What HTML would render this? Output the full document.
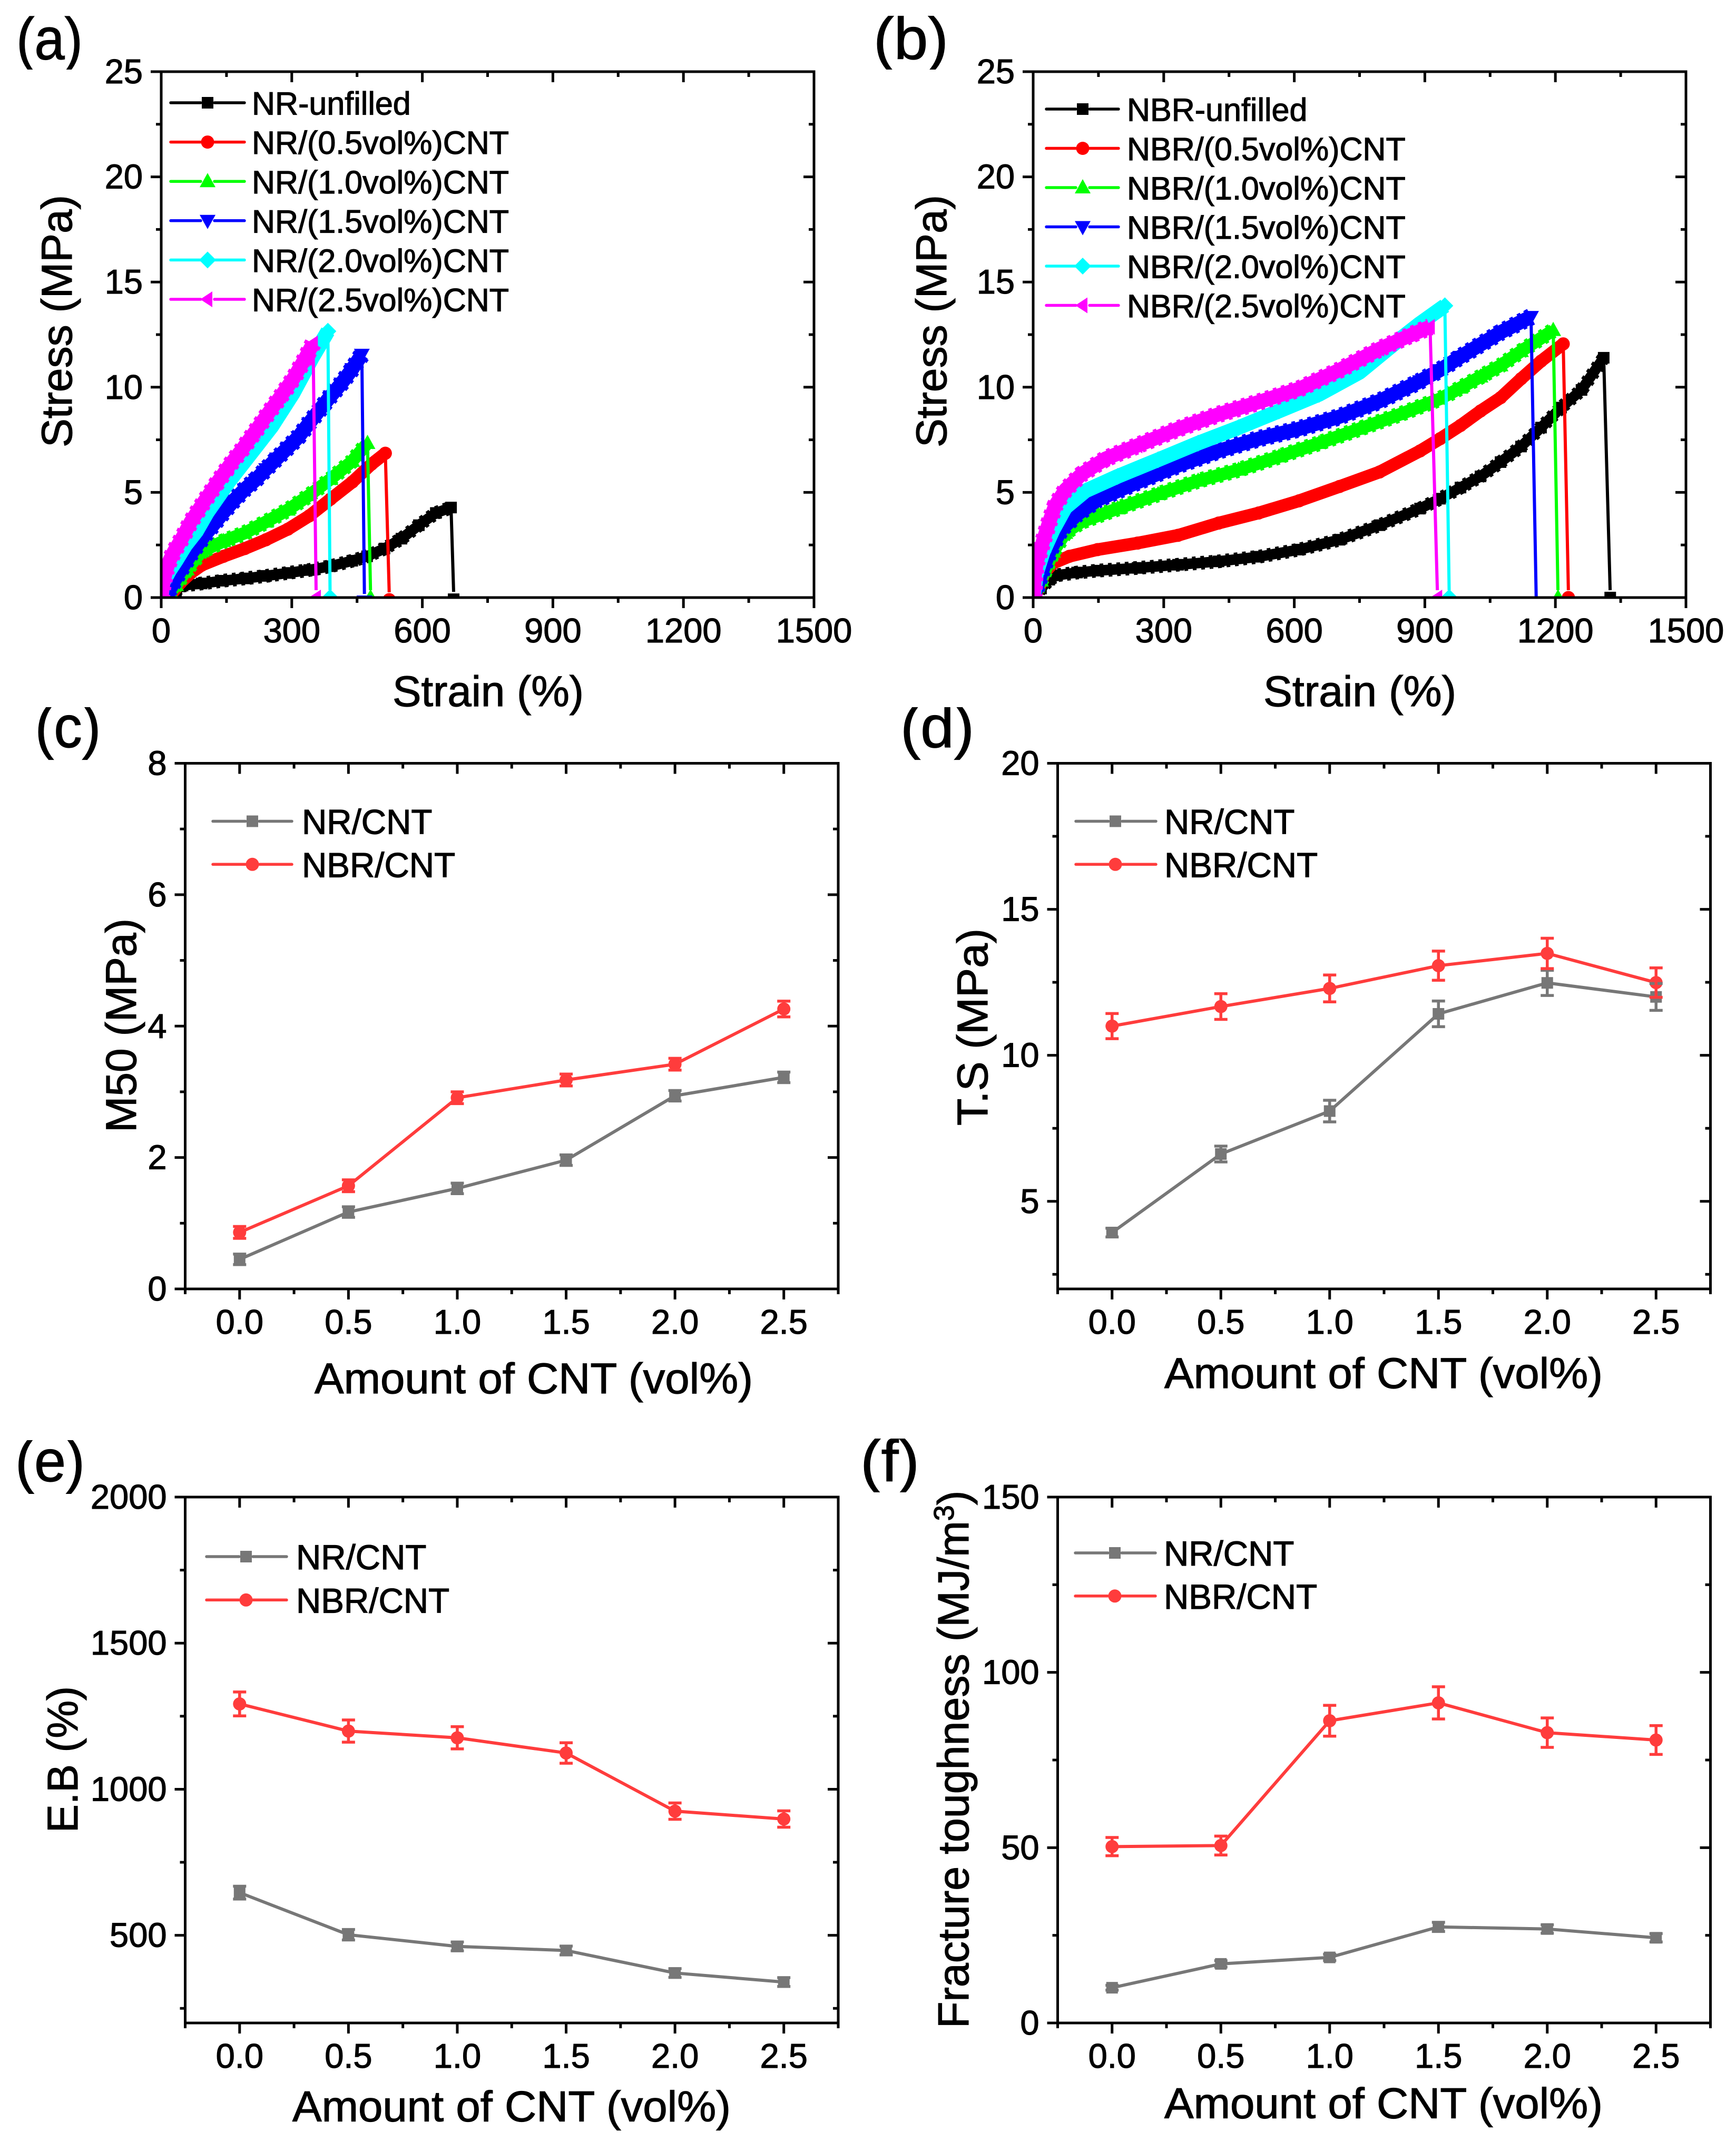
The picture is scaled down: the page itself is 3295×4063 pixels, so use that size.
<!DOCTYPE html>
<html lang="en">
<head>
<meta charset="utf-8">
<title>Mechanical properties of NR and NBR CNT composites</title>
<style>
html,body{margin:0;padding:0;background:#fff;}
svg{display:block;font-family:"Liberation Sans",Arial,sans-serif;}
text{stroke:#000;stroke-width:1.2px;}
</style>
</head>
<body>
<svg id="figure" xmlns="http://www.w3.org/2000/svg" width="3295" height="4063" viewBox="0 0 3295 4063">
<rect x="0" y="0" width="3295" height="4063" fill="#ffffff"/>
<defs id="defs"></defs>
</svg>
<script>
/* ---------- panel (a): NR stress-strain values ---------- */
const aUnfilledStrain=[0,22,34,49,93,142,192,241,291,340,389,439,473,513,552,592,631,666,672];
const aUnfilledStress=[0,.06,.33,.57,.67,.80,.91,1.03,1.17,1.31,1.49,1.75,1.96,2.33,2.80,3.44,4.02,4.28,-.08];
const a05Strain=[0,24,44,68,93,143,192,241,291,340,389,439,483,515,524];
const a05Stress=[0,.17,.70,1.17,1.54,1.96,2.33,2.75,3.25,3.88,4.68,5.49,6.34,6.86,-.1];
const a10Strain=[0,19,34,59,93,143,192,241,291,340,389,439,474,481];
const a10Stress=[0,.17,.59,1.33,2.19,2.68,3.07,3.60,4.17,4.86,5.63,6.49,7.34,0];
const a15Strain=[0,19,39,68,93,118,143,167,192,217,241,266,291,315,340,365,389,414,439,461,467];
const a15Stress=[0,.38,1.12,2.07,2.78,3.42,4.05,4.62,5.15,5.60,6.11,6.62,7.13,7.63,8.29,8.95,9.57,10.18,10.87,11.55,-.18];
const a20Strain=[0,4,19,34,56,81,106,155,204,254,303,347,383,388];
const a20Stress=[0,.70,1.28,1.75,2.49,3.15,4.05,5.50,6.80,8.13,9.71,11.40,12.66,0];
const a25Strain=[0,3,7,12,19,29,49,68,98,128,157,187,217,246,276,305,330,349,356];
const a25Stress=[0,.48,.91,1.33,1.75,2.17,2.86,3.60,4.54,5.44,6.28,7.07,7.92,8.76,9.60,10.45,11.34,12.08,0];

/* ---------- panel (b): NBR stress-strain values ---------- */
const bUnfilledStrain=[1,18,37,55,101,148,240,333,426,518,611,704,796,889,935,982,1028,1074,1121,1167,1213,1260,1311,1326];
const bUnfilledStress=[0,.43,.85,1.06,1.19,1.28,1.41,1.56,1.72,1.94,2.28,2.75,3.44,4.23,4.70,5.23,5.76,6.44,7.18,8.08,9.03,9.87,11.40,0];
const b05Strain=[1,14,27,46,83,148,240,333,426,518,611,704,796,889,935,982,1028,1074,1121,1167,1218,1230];
const b05Stress=[0,.48,1.22,1.64,1.96,2.28,2.59,2.96,3.54,4.02,4.60,5.28,5.97,6.97,7.55,8.18,8.87,9.50,10.40,11.24,12.06,0];
const b10Strain=[1,18,46,74,111,194,287,379,472,565,657,750,843,935,982,1028,1074,1121,1195,1206];
const b10Stress=[0,.80,2.17,3.07,3.60,4.23,4.91,5.55,6.07,6.70,7.34,8.02,8.71,9.45,9.97,10.50,11.03,11.71,12.71,0];
const b15Strain=[1,18,37,64,101,148,240,333,426,518,611,704,796,889,935,982,1028,1074,1144,1156];
const b15Stress=[0,1.12,2.17,3.23,3.96,4.65,5.49,6.28,6.97,7.55,8.02,8.60,9.34,10.29,10.82,11.45,12.03,12.61,13.35,-.3];
const b20Strain=[1,7,23,46,74,120,194,287,379,472,565,657,750,843,889,946,956];
const b20Stress=[0,1.12,2.17,3.23,4.28,5.07,5.76,6.55,7.34,8.08,8.87,9.66,10.71,12.29,13.03,13.87,0];
const b25Strain=[1,4,9,23,37,51,74,111,166,240,333,426,518,611,704,796,870,912,929];
const b25Stress=[0,1.12,1.75,2.70,3.60,4.39,5.12,5.86,6.60,7.23,8.02,8.71,9.29,9.92,10.82,11.82,12.50,12.87,0];

/* ---------- panels (c)-(f): summary values ---------- */
const amounts=[0,0.5,1.0,1.5,2.0,2.5];
const amountTickLabels=["0.0","0.5","1.0","1.5","2.0","2.5"];
const m50NR=[.45,1.17,1.53,1.96,2.94,3.22];
const m50NRErr=[.08,.08,.08,.08,.08,.08];
const m50NBR=[.86,1.57,2.91,3.18,3.42,4.26];
const m50NBRErr=[.09,.09,.09,.09,.09,.12];
const tsNR=[3.93,6.62,8.09,11.42,12.48,12.0];
const tsNRErr=[.15,.27,.37,.44,.43,.46];
const tsNBR=[11.0,11.67,12.29,13.07,13.49,12.49];
const tsNBRErr=[.43,.44,.46,.50,.52,.505];
const ebNR=[646,502,462,448,371,340];
const ebNRErr=[22,18,15,15,15,15];
const ebNBR=[1292,1199,1176,1124,925,898];
const ebNBRErr=[41,38,38,35,28,28];
const ftNR=[10.05,16.85,18.7,27.4,26.8,24.3];
const ftNRErr=[.7,.9,.9,1.3,1.2,1.2];
const ftNBR=[50.3,50.6,86.2,91.3,82.8,80.7];
const ftNBRErr=[2.6,2.7,4.4,4.6,4.2,4.1];

/* ---------- labels ---------- */
const strainTicks=[0,300,600,900,1200,1500];
const strainMinor=[150,450,750,1050,1350];
const stressTicks=[0,5,10,15,20,25];
const stressMinor=[2.5,7.5,12.5,17.5,22.5];
const aLegend=["NR-unfilled","NR/(0.5vol%)CNT","NR/(1.0vol%)CNT","NR/(1.5vol%)CNT","NR/(2.0vol%)CNT","NR/(2.5vol%)CNT"];
const bLegend=["NBR-unfilled","NBR/(0.5vol%)CNT","NBR/(1.0vol%)CNT","NBR/(1.5vol%)CNT","NBR/(2.0vol%)CNT","NBR/(2.5vol%)CNT"];
const summaryLegend=["NR/CNT","NBR/CNT"];

const NS="http://www.w3.org/2000/svg";
const root=document.getElementById("figure");
const defs=document.getElementById("defs");
const curveColors=["#000000","#ff0000","#00ff00","#0000ff","#00ffff","#ff00ff"];
const curveShapes=["square","circle","up","down","diamond","left"];
const bandWidths=[20,24,24,27,28,27];
const bandSerrated=[true,false,true,true,false,true];
const GRAY="#777777", RED="#ff3c3c";

function add(parent,tag,attrs){
  const el=document.createElementNS(NS,tag);
  for(const k in attrs){el.setAttribute(k,attrs[k]);}
  parent.appendChild(el);
  return el;
}
function scale(d0,d1,r0,r1){return v=>r0+(v-d0)*(r1-r0)/(d1-d0);}

function drawMarker(parent,shape,cx,cy,color){
  let el;
  if(shape==="square"){el=add(parent,"rect",{x:cx-11,y:cy-11,width:22,height:22,fill:color});}
  else if(shape==="circle"){el=add(parent,"circle",{cx:cx,cy:cy,r:12.5,fill:color});}
  else{
    let pts;
    if(shape==="up"){pts=[[cx,cy-16],[cx+15,cy+11],[cx-15,cy+11]];}
    else if(shape==="down"){pts=[[cx,cy+16],[cx+15,cy-11],[cx-15,cy-11]];}
    else if(shape==="left"){pts=[[cx-14,cy],[cx+9,cy-15],[cx+9,cy+15]];}
    else{pts=[[cx,cy-16],[cx+16,cy],[cx,cy+16],[cx-16,cy]];}
    el=add(parent,"polygon",{points:pts.map(p=>p.join(",")).join(" "),fill:color});
  }
  
  
  return el;
}

function drawFrame(g,box,xS,yS,xMajor,xMinor,yMajor,yMinor,xLabels,yLabels){
  const frame=add(g,"rect",{x:box.l,y:box.t,width:box.r-box.l,height:box.b-box.t,fill:"none",stroke:"#000",'stroke-width':5});
  
  
  const tick=(x1,y1,x2,y2,name)=>{
    const t=add(g,"line",{x1:x1,y1:y1,x2:x2,y2:y2,stroke:"#000",'stroke-width':5});
    
    
  };
  xMajor.forEach(v=>{const x=xS(v);tick(x,box.b,x,box.b+20,'x-major-tick');tick(x,box.t,x,box.t+20,'x-major-tick-top');});
  xMinor.forEach(v=>{const x=xS(v);tick(x,box.b,x,box.b+10,'x-minor-tick');tick(x,box.t,x,box.t+10,'x-minor-tick-top');});
  yMajor.forEach(v=>{const y=yS(v);tick(box.l-20,y,box.l,y,'y-major-tick');tick(box.r-20,y,box.r,y,'y-major-tick-right');});
  yMinor.forEach(v=>{const y=yS(v);tick(box.l-10,y,box.l,y,'y-minor-tick');tick(box.r-10,y,box.r,y,'y-minor-tick-right');});
  xMajor.forEach((v,i)=>{
    const t=add(g,"text",{x:xS(v),y:box.b+85,'font-size':65,'text-anchor':'middle',fill:"#000"});
    t.textContent=xLabels[i];
    
    
  });
  yMajor.forEach((v,i)=>{
    const t=add(g,"text",{x:box.l-35,y:yS(v)+22,'font-size':65,'text-anchor':'end',fill:"#000"});
    t.textContent=yLabels[i];
    
    
  });
}

function drawAxisTitles(g,xt,yt){
  const tx=add(g,"text",{x:xt.x,y:xt.y,'font-size':82,fill:"#000",textLength:xt.w,lengthAdjust:"spacingAndGlyphs"});
  tx.textContent=xt.text;
  
  
  const ty=add(g,"text",{transform:"translate("+yt.x+","+yt.y+") rotate(-90)",'font-size':82,fill:"#000",textLength:yt.w,lengthAdjust:"spacingAndGlyphs"});
  ty.textContent=yt.text;
  
  
}

function clipFor(id,box){
  const c=add(defs,"clipPath",{id:id});
  add(c,"rect",{x:box.l,y:box.t,width:box.r-box.l,height:box.b-box.t});
}

function drawLegend(g,lg){
  lg.labels.forEach((label,i)=>{
    const y=lg.y0+i*lg.dy;
    const row=add(g,"g",{});
    
    
    const a=add(row,"line",{x1:lg.x1,y1:y,x2:lg.mx-13,y2:y,stroke:lg.colors[i],'stroke-width':5.5,'stroke-linecap':'round'});
    
    
    const b=add(row,"line",{x1:lg.mx+13,y1:y,x2:lg.x2,y2:y,stroke:lg.colors[i],'stroke-width':5.5,'stroke-linecap':'round'});
    
    
    drawMarker(row,lg.shapes[i],lg.mx,y,lg.colors[i]);
    const t=add(row,"text",{x:lg.tx,y:y+lg.fs*0.37,'font-size':lg.fs,fill:"#000"});
    t.textContent=label;
    
    
  });
}

function strainPanel(name,box,series,legend,xt,yt){
  const g=add(root,"g",{});
  
  
  const xS=scale(0,1500,box.l,box.r), yS=scale(0,25,box.b,box.t);
  const cid="clip-"+name;
  clipFor(cid,box);
  const plot=add(g,"g",{'clip-path':"url(#"+cid+")"});
  
  
  series.forEach((s,i)=>{
    const sg=add(plot,"g",{});
    
    
    const n=s.x.length;
    const pts=[];
    for(let k=0;k<n;k++){pts.push([xS(s.x[k]),yS(s.y[k])]);}
    const band=pts.slice(0,n-1);
    const bandPoints=band.map(p=>p.join(",")).join(" ");
    const pl=add(sg,"polyline",{points:bandPoints,fill:"none",stroke:curveColors[i],'stroke-width':bandWidths[i],'stroke-linejoin':'round'});
    
    
    if(bandSerrated[i]){
      const teeth=add(sg,"polyline",{points:bandPoints,fill:"none",stroke:curveColors[i],'stroke-width':bandWidths[i]+6,'stroke-dasharray':'7 9'});
      
      
    }
    for(let k=0;k<n;k++){drawMarker(sg,curveShapes[i],pts[k][0],pts[k][1],curveColors[i]);}
    const p0=pts[n-2],p1=pts[n-1];
    const drop=add(sg,"line",{x1:p0[0],y1:p0[1],x2:p1[0]-(p1[0]-p0[0])*0.014,y2:p1[1]-14,stroke:curveColors[i],'stroke-width':6});
    
    
  });
  drawFrame(g,box,xS,yS,strainTicks,strainMinor,stressTicks,stressMinor,strainTicks.map(String),stressTicks.map(String));
  drawLegend(g,Object.assign(legend,{colors:curveColors,shapes:curveShapes,fs:61}));
  drawAxisTitles(g,xt,yt);
}

function summaryPanel(name,box,yDom,yMajor,yMinor,nr,nrErr,nbr,nbrErr,legend,xt,yt,superTitle){
  const g=add(root,"g",{});
  
  
  const xS=scale(-0.25,2.75,box.l,box.r), yS=scale(yDom[0],yDom[1],box.b,box.t);
  const plot=add(g,"g",{});
  
  
  const sets=[{v:nr,e:nrErr,c:GRAY,s:"square",n:"nr-cnt-line"},{v:nbr,e:nbrErr,c:RED,s:"circle",n:"nbr-cnt-line"}];
  sets.forEach(d=>{
    const l=add(plot,"polyline",{points:amounts.map((a,i)=>xS(a)+","+yS(d.v[i])).join(" "),fill:"none",stroke:d.c,'stroke-width':6});
    
    
  });
  sets.forEach(d=>{amounts.forEach((a,i)=>{drawMarker(plot,d.s,xS(a),yS(d.v[i]),d.c);});});
  sets.forEach(d=>{
    amounts.forEach((a,i)=>{
      const x=xS(a),y0=yS(d.v[i]-d.e[i]),y1=yS(d.v[i]+d.e[i]);
      const eb=add(plot,"path",{d:"M"+x+" "+y0+"L"+x+" "+y1+"M"+(x-12.5)+" "+y0+"L"+(x+12.5)+" "+y0+"M"+(x-12.5)+" "+y1+"L"+(x+12.5)+" "+y1,fill:"none",stroke:d.c,'stroke-width':5.5});
      
      
    });
  });
  drawFrame(g,box,xS,yS,amounts,[-0.25,0.25,0.75,1.25,1.75,2.25,2.75],yMajor,yMinor,amountTickLabels,yMajor.map(String));
  drawLegend(g,Object.assign(legend,{labels:summaryLegend,colors:[GRAY,RED],shapes:["square","circle"],fs:65.5}));
  drawAxisTitles(g,xt,superTitle?{text:"",x:yt.x,y:yt.y,w:1}:yt);
  if(superTitle){
    const ty=add(g,"text",{transform:"translate("+yt.x+","+yt.y+") rotate(-90)",'font-size':82.5,fill:"#000"});
    
    
    const t1=add(ty,"tspan",{});
    t1.textContent=superTitle[0];
    const t2=add(ty,"tspan",{dy:-28,'font-size':54});
    t2.textContent=superTitle[1];
    const t3=add(ty,"tspan",{dy:28});
    t3.textContent=superTitle[2];
  }
}

const boxA={l:306,r:1545,t:136,b:1134}, boxB={l:1961,r:3200,t:136,b:1134};
const boxC={l:351.5,r:1591,t:1448.5,b:2446}, boxD={l:2007.5,r:3246.5,t:1448.5,b:2446};
const boxE={l:351.5,r:1591,t:2841,b:3839}, boxF={l:2007.5,r:3246.5,t:2841,b:3839};

strainPanel("panel-a",boxA,[
  {x:aUnfilledStrain,y:aUnfilledStress},{x:a05Strain,y:a05Stress},{x:a10Strain,y:a10Stress},
  {x:a15Strain,y:a15Stress},{x:a20Strain,y:a20Stress},{x:a25Strain,y:a25Stress}],
  {labels:aLegend,x1:324,x2:464,mx:394,tx:478,y0:195,dy:74.6},
  {text:"Strain (%)",x:745,y:1340,w:363},{text:"Stress (MPa)",x:136,y:849,w:479});
strainPanel("panel-b",boxB,[
  {x:bUnfilledStrain,y:bUnfilledStress},{x:b05Strain,y:b05Stress},{x:b10Strain,y:b10Stress},
  {x:b15Strain,y:b15Stress},{x:b20Strain,y:b20Stress},{x:b25Strain,y:b25Stress}],
  {labels:bLegend,x1:1986,x2:2123,mx:2055,tx:2139,y0:207,dy:74.5},
  {text:"Strain (%)",x:2398,y:1340,w:366},{text:"Stress (MPa)",x:1796,y:849,w:479});

summaryPanel("panel-c",boxC,[0,8],[0,2,4,6,8],[1,3,5,7],m50NR,m50NRErr,m50NBR,m50NBRErr,
  {x1:404,x2:554,mx:479,tx:573,y0:1558.5,dy:81.8},
  {text:"Amount of CNT (vol%)",x:597,y:2644,w:832},{text:"M50 (MPa)",x:258,y:2149,w:406});
summaryPanel("panel-d",boxD,[2,20],[5,10,15,20],[2.5,7.5,12.5,17.5],tsNR,tsNRErr,tsNBR,tsNBRErr,
  {x1:2042,x2:2194,mx:2117,tx:2210,y0:1558.5,dy:81.8},
  {text:"Amount of CNT (vol%)",x:2210,y:2634,w:832},{text:"T.S (MPa)",x:1874,y:2136,w:374});
summaryPanel("panel-e",boxE,[200,2000],[500,1000,1500,2000],[250,750,1250,1750],ebNR,ebNRErr,ebNBR,ebNBRErr,
  {x1:392,x2:544,mx:467,tx:562,y0:2954,dy:82.3},
  {text:"Amount of CNT (vol%)",x:555,y:4025.6,w:832},{text:"E.B (%)",x:147,y:3478,w:278});
summaryPanel("panel-f",boxF,[0,150],[0,50,100,150],[25,75,125],ftNR,ftNRErr,ftNBR,ftNBRErr,
  {x1:2041,x2:2193,mx:2116,tx:2209,y0:2947,dy:81.8},
  {text:"Amount of CNT (vol%)",x:2210,y:4019.6,w:832},{text:"",x:1838,y:3849,w:1023},
  ["Fracture toughness (MJ/m","3",")"]);

/* panel letters */
const panelLetters=["(a)","(b)","(c)","(d)","(e)","(f)"];
const letterCenters=[94,1729,129,1779,95,1689];
const letterBaselines=[112.5,112,1418,1418,2811,2811];
const letterClipTops=[30,30,1342,1342,2733,2730];
const letterLengths=[126,142,125,140,132,112];
panelLetters.forEach((txt,i)=>{
  const id="letter-clip-"+i;
  const c=add(defs,"clipPath",{id:id});
  add(c,"rect",{x:letterCenters[i]-90,y:letterClipTops[i],width:180,height:102});
  const t=add(root,"text",{x:letterCenters[i],y:letterBaselines[i],'font-size':112,'text-anchor':'middle',fill:"#000",'clip-path':"url(#"+id+")",textLength:letterLengths[i],lengthAdjust:"spacingAndGlyphs"});
  t.textContent=txt;
  
  
});
</script>
</body>
</html>
